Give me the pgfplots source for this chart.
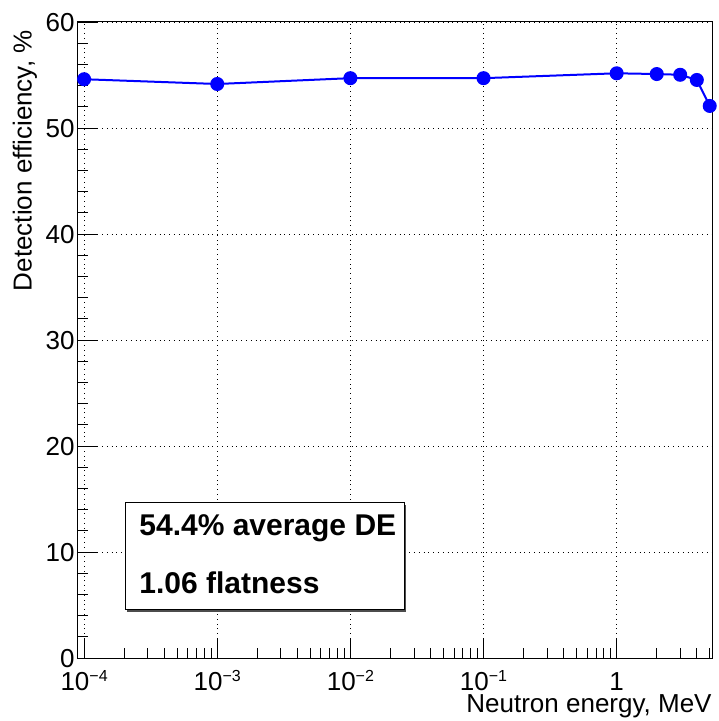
\documentclass[border=0pt]{standalone}
\usepackage{pgfplots}
\pgfplotsset{compat=1.18}
\usepackage{fontspec}
\setmainfont{Liberation Sans}
% exponent for decade tick labels
\newcommand\expo[1]{\raisebox{4.5pt}{\fontsize{8}{8}\selectfont #1}}

\pgfplotstableread{
E      DE
1e-4   54.60
1e-3   54.15
1e-2   54.70
1e-1   54.70
1      55.16
2      55.09
3      55.02
4      54.53
5      52.08
}\detable

\begin{document}
\begin{tikzpicture}
\useasboundingbox (-39pt,-31.5pt) rectangle (320pt,329pt);
\begin{axis}[
  scale only axis,
  width=317pt, height=318pt,
  xmode=log,
  xmin=9e-5, xmax=5.2,
  ymin=0, ymax=60,
  axis line style={black, line width=0.5pt},
  xtick={1e-4,1e-3,1e-2,1e-1,1},
  xticklabels={10\expo{−4},10\expo{−3},10\expo{−2},10\expo{−1},1},
  minor xtick={2e-4,3e-4,4e-4,5e-4,6e-4,7e-4,8e-4,9e-4,
               2e-3,3e-3,4e-3,5e-3,6e-3,7e-3,8e-3,9e-3,
               2e-2,3e-2,4e-2,5e-2,6e-2,7e-2,8e-2,9e-2,
               2e-1,3e-1,4e-1,5e-1,6e-1,7e-1,8e-1,9e-1,
               2,3,4,5},
  ytick={0,10,20,30,40,50,60},
  minor y tick num=4,
  tick align=inside,
  xtick pos=bottom, ytick pos=left,
  major tick length=9.5pt,
  minor tick length=5pt,
  tick style={black, line width=0.4pt},
  grid=major,
  major grid style={black, dotted, line width=0.4pt},
  /pgf/number format/assume math mode=true,
  ticklabel style={font=\fontsize{13}{15}\selectfont},
  xticklabel style={anchor=base, yshift=-16.3pt, inner sep=0pt},
  yticklabel style={xshift=-1pt, inner sep=0.5pt, text depth=0pt},
]
\addplot[blue, line width=1pt, mark=*, mark size=3pt,
         mark options={fill=blue, draw=blue}] table[x=E, y=DE] {\detable};
\end{axis}
% axis titles
\node[anchor=base east, font=\fontsize{13}{15}\selectfont, inner sep=0pt]
  at (317pt,-27.2pt) {Neutron energy, MeV};
\node[rotate=90, anchor=east, font=\fontsize{13}{15}\selectfont, inner sep=0pt]
  at (-26.5pt,314pt) {Detection efficiency, \%};
% summary box
\fill[black!70] (24.5pt,23pt) rectangle (164pt,76.5pt);
\draw[fill=white, line width=0.5pt] (23.5pt,24pt) rectangle (163pt,77.5pt);
\node[anchor=west, font=\fontsize{15}{18}\selectfont\bfseries, inner sep=0pt]
  at (30.5pt,65pt) {54.4\% average DE};
\node[anchor=west, font=\fontsize{15}{18}\selectfont\bfseries, inner sep=0pt]
  at (30.5pt,37.5pt) {1.06 flatness};
\end{tikzpicture}
\end{document}
